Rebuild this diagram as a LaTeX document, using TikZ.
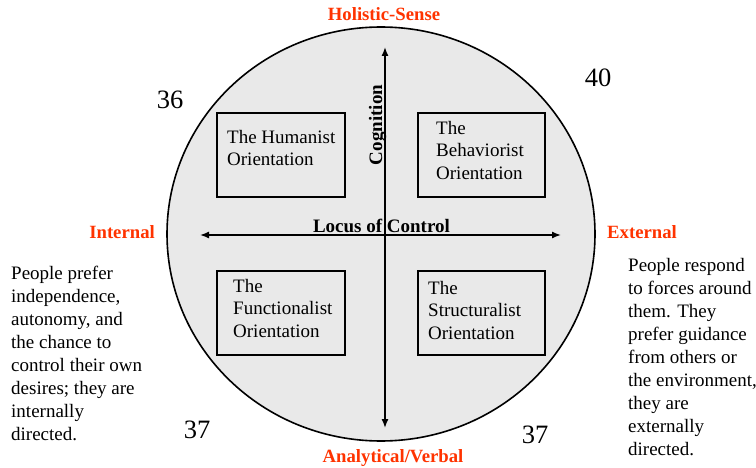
\documentclass[tikz,border=0pt]{standalone}
\usepackage{fontspec}
\setmainfont{Liberation Serif}
\usetikzlibrary{arrows.meta}
\definecolor{lblred}{RGB}{255,51,0}
\definecolor{circfill}{RGB}{233,233,233}
\tikzset{
  body/.style={font=\fontsize{19}{23}\selectfont, inner sep=0pt, align=left, anchor=north west},
  boxtxt/.style={font=\fontsize{19}{22.5}\selectfont, inner sep=0pt, align=left, anchor=north west},
  axislbl/.style={font=\fontsize{18.7}{22}\selectfont\bfseries, text=lblred, inner sep=0pt},
  axisname/.style={font=\fontsize{19}{22}\selectfont\bfseries, inner sep=0pt},
  numlbl/.style={font=\fontsize{26.5}{28}\selectfont, inner sep=0pt, anchor=base},
  orbox/.style={draw, line width=1.6pt, inner sep=0pt},
  axisarrow/.style={line width=1.4pt, {Latex[length=9pt,width=7pt]}-{Latex[length=9pt,width=7pt]}}
}
\begin{document}
\begin{tikzpicture}[x=1pt,y=-1pt]
\useasboundingbox (0,0) rectangle (756,468);
% circle
\draw[fill=circfill, line width=1.6pt] (381,234) ellipse [x radius=214, y radius=207];
% boxes
\node[orbox, minimum width=128pt, minimum height=84pt] (hum) at (281,155) {};
\node[orbox, minimum width=127pt, minimum height=84pt] (beh) at (481.5,155) {};
\node[orbox, minimum width=128pt, minimum height=84pt] (fun) at (281,313) {};
\node[orbox, minimum width=127pt, minimum height=84pt] (str) at (481.5,313) {};
\node[boxtxt] (humt) at (227,130) {The Humanist\\Orientation};
\node[boxtxt] (beht) at (436,121) {The\\Behaviorist\\Orientation};
\node[boxtxt] (funt) at (233,279) {The\\Functionalist\\Orientation};
\node[boxtxt] (strt) at (428,281) {The\\Structuralist\\Orientation};
% axes
\coordinate (vtop) at (385,47);
\coordinate (vbot) at (385,428);
\coordinate (hl) at (200,235);
\coordinate (hr) at (561,235);
\draw[axisarrow] (vbot) -- (vtop);
\draw[axisarrow] (hl) -- (hr);
\node[axisname, anchor=base] (loc) at (381.5,233) {Locus of Control};
\node[axisname, anchor=base, rotate=90] (cog) at (382,125) {Cognition};
% axis labels
\node[axislbl, anchor=base] (hol) at (384,21) {Holistic-Sense};
\node[axislbl, anchor=base] (ana) at (393,462) {Analytical/Verbal};
\node[axislbl, anchor=base east] (int) at (155,239) {Internal};
\node[axislbl, anchor=base west] (ext) at (607,239) {External};
% numbers
\node[numlbl] (n36) at (170,108.5) {36};
\node[numlbl] (n40) at (598,86.5) {40};
\node[numlbl] (n37a) at (197,438.5) {37};
\node[numlbl] (n37b) at (535,443.5) {37};
% side texts
\node[body] (lefttxt) at (11,266) {People prefer\\independence,\\autonomy, and\\the chance to\\control their own\\desires; they are\\internally\\directed.};
\node[body] (righttxt) at (628,258) {People respond\\to forces around\\them. They\\prefer guidance\\from others or\\the environment,\\they are\\externally\\directed.};
\end{tikzpicture}
\end{document}
